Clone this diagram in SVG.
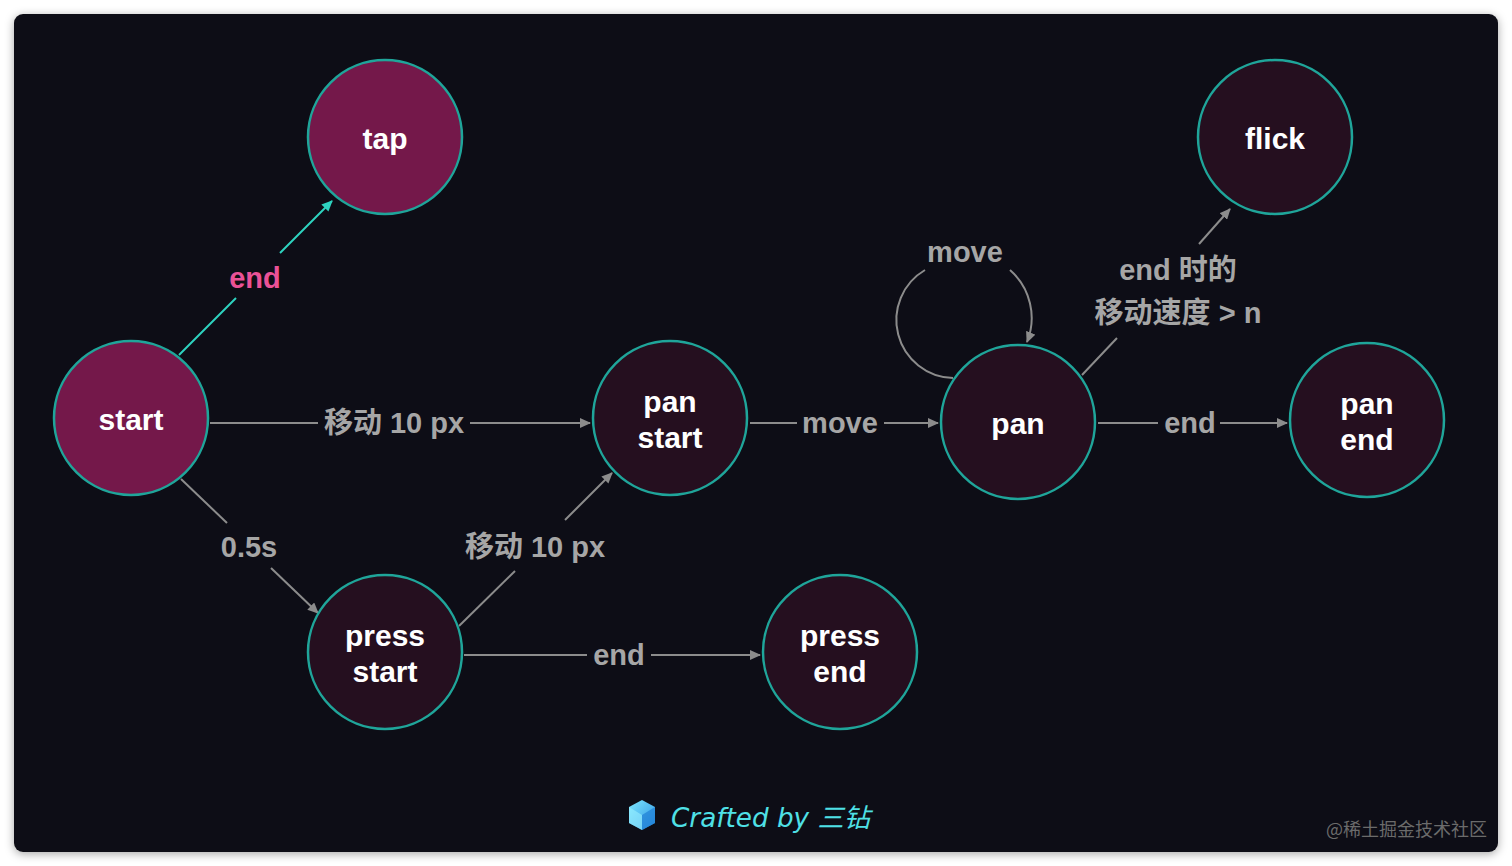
<svg xmlns="http://www.w3.org/2000/svg" width="1512" height="866" viewBox="0 0 1512 866">
<defs>
<filter id="sh" x="-5%" y="-5%" width="110%" height="110%">
<feDropShadow dx="0" dy="2" stdDeviation="5" flood-color="#000" flood-opacity="0.35"/>
</filter>
<marker id="ag" markerUnits="userSpaceOnUse" markerWidth="12" markerHeight="10" refX="10" refY="5" orient="auto">
<path d="M0,0 L11,5 L0,10 z" fill="#8c8c8c"/>
</marker>
<marker id="at" markerUnits="userSpaceOnUse" markerWidth="12" markerHeight="10" refX="10" refY="5" orient="auto">
<path d="M0,0 L11,5 L0,10 z" fill="#2ed3c0"/>
</marker>
<linearGradient id="cubeA" x1="0" y1="0" x2="1" y2="1">
<stop offset="0" stop-color="#7ee8ff"/><stop offset="1" stop-color="#2a8fe0"/>
</linearGradient>
<style>
.node circle{stroke:#1fa59a;stroke-width:2.5}
.hot circle{fill:#74184a}
.cold circle{fill:#250f1f}
.node text{font-family:"Liberation Sans","Noto Sans CJK SC",sans-serif;font-weight:bold;font-size:30px;fill:#ffffff;text-anchor:middle}
.e{stroke:#8c8c8c;stroke-width:2;fill:none}
.et{stroke:#2ed3c0;stroke-width:2;fill:none}
.lbl{font-family:"Liberation Sans","Noto Sans CJK SC",sans-serif;font-weight:bold;font-size:29px;fill:#a6a6a6;text-anchor:middle}
</style>
</defs>
<rect x="0" y="0" width="1512" height="866" fill="#ffffff"/>
<rect x="14" y="14" width="1484" height="838" rx="9" fill="#0f0e17" filter="url(#sh)"/>

<g id="connectors">
<line class="et" x1="179" y1="355" x2="236" y2="298"/>
<line class="et" x1="280" y1="253" x2="332" y2="201" marker-end="url(#at)"/>
<text class="lbl" x="255" y="288" style="fill:#ea5297">end</text>

<line class="e" x1="210" y1="423" x2="318" y2="423"/>
<line class="e" x1="470" y1="423" x2="590" y2="423" marker-end="url(#ag)"/>
<text class="lbl" x="394" y="433">移动 10 px</text>

<line class="e" x1="181" y1="479" x2="227" y2="523"/>
<line class="e" x1="271" y1="568" x2="318" y2="613" marker-end="url(#ag)"/>
<text class="lbl" x="249" y="557">0.5s</text>

<line class="e" x1="459" y1="626" x2="515" y2="571"/>
<line class="e" x1="565" y1="520" x2="612" y2="473" marker-end="url(#ag)"/>
<text class="lbl" x="535" y="557">移动 10 px</text>

<line class="e" x1="464" y1="655" x2="587" y2="655"/>
<line class="e" x1="651" y1="655" x2="760" y2="655" marker-end="url(#ag)"/>
<text class="lbl" x="619" y="665">end</text>

<line class="e" x1="750" y1="423" x2="797" y2="423"/>
<line class="e" x1="884" y1="423" x2="938" y2="423" marker-end="url(#ag)"/>
<text class="lbl" x="840" y="433">move</text>

<path class="e" d="M953,378 A58,58 0 0 1 925,270"/>
<path class="e" d="M1010,270 A64,64 0 0 1 1027,342" marker-end="url(#ag)"/>
<text class="lbl" x="965" y="262">move</text>

<line class="e" x1="1082" y1="375" x2="1117" y2="338"/>
<line class="e" x1="1199" y1="244" x2="1230" y2="209" marker-end="url(#ag)"/>
<text class="lbl" x="1178" y="280">end 时的</text>
<text class="lbl" x="1178" y="323">移动速度 &gt; n</text>

<line class="e" x1="1098" y1="423" x2="1158" y2="423"/>
<line class="e" x1="1220" y1="423" x2="1287" y2="423" marker-end="url(#ag)"/>
<text class="lbl" x="1190" y="433">end</text>
</g>

<g id="node-tap" class="node hot"><circle cx="385" cy="137" r="77"/><text x="385" y="149">tap</text></g>
<g id="node-start" class="node hot"><circle cx="131" cy="418" r="77"/><text x="131" y="430">start</text></g>
<g id="node-panstart" class="node cold"><circle cx="670" cy="418" r="77"/><text x="670" y="412">pan</text><text x="670" y="448">start</text></g>
<g id="node-pressstart" class="node cold"><circle cx="385" cy="652" r="77"/><text x="385" y="646">press</text><text x="385" y="682">start</text></g>
<g id="node-pressend" class="node cold"><circle cx="840" cy="652" r="77"/><text x="840" y="646">press</text><text x="840" y="682">end</text></g>
<g id="node-pan" class="node cold"><circle cx="1018" cy="422" r="77"/><text x="1018" y="434">pan</text></g>
<g id="node-panend" class="node cold"><circle cx="1367" cy="420" r="77"/><text x="1367" y="414">pan</text><text x="1367" y="450">end</text></g>
<g id="node-flick" class="node cold"><circle cx="1275" cy="137" r="77"/><text x="1275" y="149">flick</text></g>

<g id="footer">
<polygon points="642,800 655,807 655,823 642,830 629,823 629,807" fill="url(#cubeA)"/>
<polygon points="642,815 655,807 655,823 642,830" fill="#1f7fd6" opacity="0.7"/>
<polygon points="629,807 642,815 642,830 629,823" fill="#9af0ff" opacity="0.6"/>
<text x="671" y="827" font-family="'DejaVu Sans','Noto Sans CJK SC',sans-serif" font-style="italic" font-size="26" textLength="199" lengthAdjust="spacingAndGlyphs" fill="#4fe0e6">Crafted by 三钻</text>
<text x="1487" y="836" font-family="'Noto Sans CJK SC',sans-serif" font-size="18" fill="#6b6b6b" text-anchor="end">@稀土掘金技术社区</text>
</g>
</svg>
